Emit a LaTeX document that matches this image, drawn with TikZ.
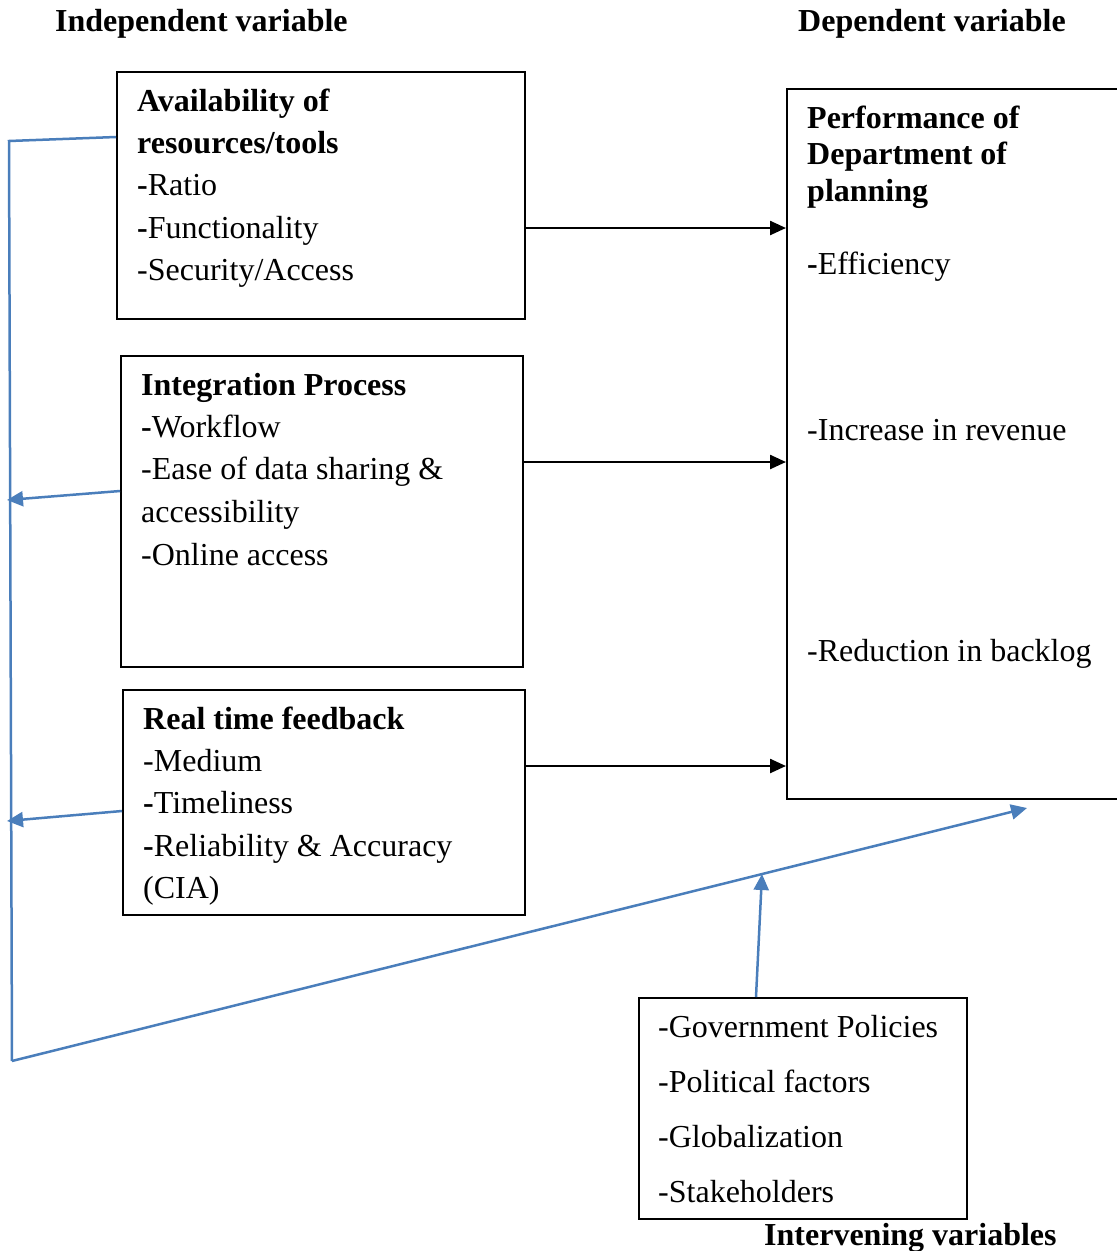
\documentclass[tikz,border=0pt]{standalone}
\usepackage{fontspec}
\setmainfont{Liberation Serif}
\usetikzlibrary{arrows.meta,calc}
\definecolor{wblue}{HTML}{4A7EBB}
\begin{document}
\begin{tikzpicture}[x=1pt,y=1pt,
  box/.style={draw=black,line width=2pt,anchor=north west,inner sep=0pt},
  txt/.style={anchor=base west,inner sep=0pt,font=\fontsize{32}{42}\selectfont},
  btxt/.style={txt,font=\fontsize{32}{42}\selectfont\bfseries},
  blk/.style={line width=2.4pt,-{Triangle[length=16pt,width=14pt]}},
  bl/.style={draw=wblue,line width=2.5pt},
  bla/.style={bl,-{Triangle[length=16pt,width=15pt]}}]
\useasboundingbox (0,0) rectangle (1117,-1251);
% headings
\node[btxt] (hind) at (55,-31) {Independent variable};
\node[btxt] (hdep) at (798,-31) {Dependent variable};
\node[btxt] (hint) at (764,-1245) {Intervening variables};
% boxes
\node[box,minimum width=408,minimum height=247] (b1) at (116,-71) {};
\node[box,minimum width=402,minimum height=311] (b2) at (120,-355) {};
\node[box,minimum width=402,minimum height=225] (b3) at (122,-689) {};
\node[box,minimum width=340,minimum height=710] (dv) at (786,-88) {};
\node[box,minimum width=328,minimum height=221] (iv) at (638,-997) {};
% box 1 text
\node[btxt] (t11) at (137,-111) {Availability of};
\node[btxt] (t12) at (137,-153) {resources/tools};
\node[txt] (t13) at (137,-195) {\textbf{-}Ratio};
\node[txt] (t14) at (137,-238) {\textbf{-}Functionality};
\node[txt] (t15) at (137,-280) {-Security/Access};
% box 2 text
\node[btxt] (t21) at (141,-395) {Integration Process};
\node[txt] (t22) at (141,-437) {\textbf{-}Workflow};
\node[txt] (t23) at (141,-479) {-Ease of data sharing \&};
\node[txt] (t24) at (141,-522) {accessibility};
\node[txt] (t25) at (141,-565) {-Online access};
% box 3 text
\node[btxt] (t31) at (143,-729) {Real time feedback};
\node[txt] (t32) at (143,-771) {-Medium};
\node[txt] (t33) at (143,-813) {\textbf{-}Timeliness};
\node[txt] (t34) at (143,-856) {\textbf{-}Reliability \& Accuracy};
\node[txt] (t35) at (143,-898) {(CIA)};
% dependent text
\node[btxt] (d1) at (807,-128) {Performance of};
\node[btxt] (d2) at (807,-164) {Department of};
\node[btxt] (d3) at (807,-201) {planning};
\node[txt] (d4) at (807,-274) {\textbf{-}Efficiency};
\node[txt] (d5) at (807,-440) {-Increase in revenue};
\node[txt] (d6) at (807,-661) {-Reduction in backlog};
% intervening text
\node[txt] (i1) at (658,-1037) {-Government Policies};
\node[txt] (i2) at (658,-1092) {-Political factors};
\node[txt] (i3) at (658,-1147) {-Globalization};
\node[txt] (i4) at (658,-1202) {-Stakeholders};
% black arrows
\draw[blk] (b1.east |- 0,-228) -- (dv.west |- 0,-228);
\draw[blk] (b2.east |- 0,-462) -- (dv.west |- 0,-462);
\draw[blk] (b3.east |- 0,-766) -- (dv.west |- 0,-766);
% blue connectors
\coordinate (ltop) at (9,-141);
\coordinate (lbot) at (12,-1061);
\coordinate (la2) at (7,-500);
\coordinate (la3) at (7,-821);
\coordinate (rend) at (1027,-808);
\coordinate (ivend) at (762,-874);
\draw[bl] (b1.west |- 0,-137) -- (ltop) -- (lbot) ;
\draw[bla] (lbot) -- (rend);
\draw[bla] (b2.west |- 0,-491) -- (la2);
\draw[bla] (b3.west |- 0,-811) -- (la3);
\draw[bla] (iv.north -| 756,0) -- (ivend);
\end{tikzpicture}
\end{document}
